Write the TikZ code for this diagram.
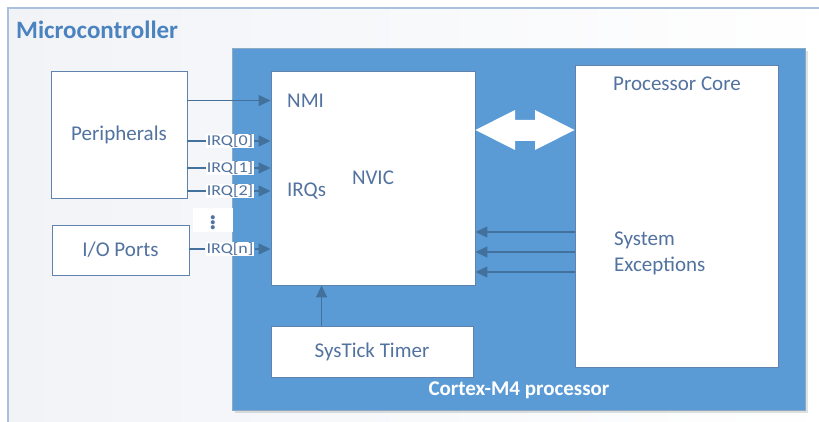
\documentclass[tikz,border=0pt]{standalone}
\usepackage{fontspec}
\setmainfont{Carlito}
\usetikzlibrary{arrows.meta,calc}
\definecolor{procblue}{HTML}{5B9BD5}
\definecolor{linecol}{HTML}{41719C}
\definecolor{txtcol}{HTML}{52729F}
\definecolor{mctitle}{HTML}{4A83C0}
\definecolor{outerborder}{HTML}{A9C1DE}
\definecolor{boxborder}{HTML}{5F83AE}
\definecolor{outerfill}{HTML}{F1F3F7}
\tikzset{
  wbox/.style={draw=boxborder,line width=0.9pt,fill=white,text=txtcol,font=\fontsize{21}{24}\selectfont,inner sep=0pt},
  irqlab/.style={fill=white,text=txtcol,inner sep=1pt,font=\fontsize{15}{17}\selectfont},
  lab/.style={text=txtcol,font=\fontsize{21}{24}\selectfont,inner sep=0pt},
  conn/.style={draw=linecol,line width=1.3pt},
  arr/.style={conn,-{Triangle[width=11pt,length=12pt]}}
}
\begin{document}
\begin{tikzpicture}[x=1pt,y=-1pt]
\useasboundingbox (0,0) rectangle (819,422);
\begin{scope}
\clip (0,0) rectangle (819,422);
% outer microcontroller box
\shade[shading angle=60,left color=outerfill,right color=white] (8,8) rectangle (840,440);
\draw[outerborder,line width=2pt] (8,440) -- (8,8) -- (840,8);
\node[anchor=west,text=mctitle,font=\bfseries\fontsize{25}{28}\selectfont,inner sep=0pt] (mc) at (16,30) {Microcontroller};
% processor
\fill[black,opacity=0.12] (235,51) rectangle (808,413);
\fill[procblue] (232,48) rectangle (805,410);
\draw[linecol!60,line width=0.5pt] (232,48) rectangle (805,410);
\node[text=white,font=\bfseries\fontsize{21}{24}\selectfont,inner sep=0pt] (cm4) at (519,390) {Cortex-M4 processor};
\end{scope}
% boxes
\node[wbox,minimum width=136pt,minimum height=127pt] (per) at (119,134.5) {Peripherals};
\node[wbox,minimum width=137pt,minimum height=50pt] (io) at (120.5,250) {I/O Ports};
\node[wbox,minimum width=204pt,minimum height=214pt] (nvic) at (373,178) {NVIC};
\node[wbox,minimum width=203pt,minimum height=302pt] (core) at (676.5,216) {};
\node[wbox,minimum width=202pt,minimum height=51pt] (systick) at (372,351.5) {SysTick Timer};
\node[lab] (pctitle) at (677,84) {Processor Core};
\node[lab,align=left,anchor=west,font=\fontsize{21}{26}\selectfont] (sysexc) at (614,253) {System\\Exceptions};
\node[lab,anchor=west] (nmi) at (287,101) {NMI};
\node[lab,anchor=west] (irqs) at (287,191) {IRQs};
% NMI
\coordinate (nmistart) at ($(per.north east)+(0,30)$);
\draw[arr] (nmistart) -- (nmistart -| nvic.west);
% IRQ labels
\node[irqlab] (irq0) at (230,141) {\scalebox{1.2}[1]{IRQ[0]}};
\node[irqlab] (irq1) at (230,168) {\scalebox{1.2}[1]{IRQ[1]}};
\node[irqlab] (irq2) at (230,191) {\scalebox{1.2}[1]{IRQ[2]}};
\node[irqlab] (irqn) at (230,249) {\scalebox{1.2}[1]{IRQ[n]}};
\node[fill=white,text=txtcol,minimum width=40pt,minimum height=24pt,inner sep=0pt,font=\fontsize{34}{36}\selectfont] (dots) at (213,220) {\vdots};
\foreach \n in {irq0,irq1,irq2} {
  \draw[conn] (\n.west -| per.east) -- (\n.west);
  \draw[arr] (\n.east) -- (\n.east -| nvic.west);
}
\draw[conn] (irqn.west -| io.east) -- (irqn.west);
\draw[arr] (irqn.east) -- (irqn.east -| nvic.west);
% system exceptions arrows
\foreach \yy in {232,252,272} {
  \coordinate (se\yy) at (575,\yy);
  \draw[arr] (se\yy) -- (se\yy -| nvic.east);
}
% systick arrow
\coordinate (st) at ($(systick.north west)+(51,0)$);
\draw[arr] (st) -- (st |- nvic.south);
% double arrow
\fill[white] (nvic.east |- 0,130) -- (515,110) -- (515,120) -- (535,120) -- (535,110) -- (core.west |- 0,130) -- (535,150) -- (535,141) -- (515,141) -- (515,150) -- cycle;
\end{tikzpicture}
\end{document}
